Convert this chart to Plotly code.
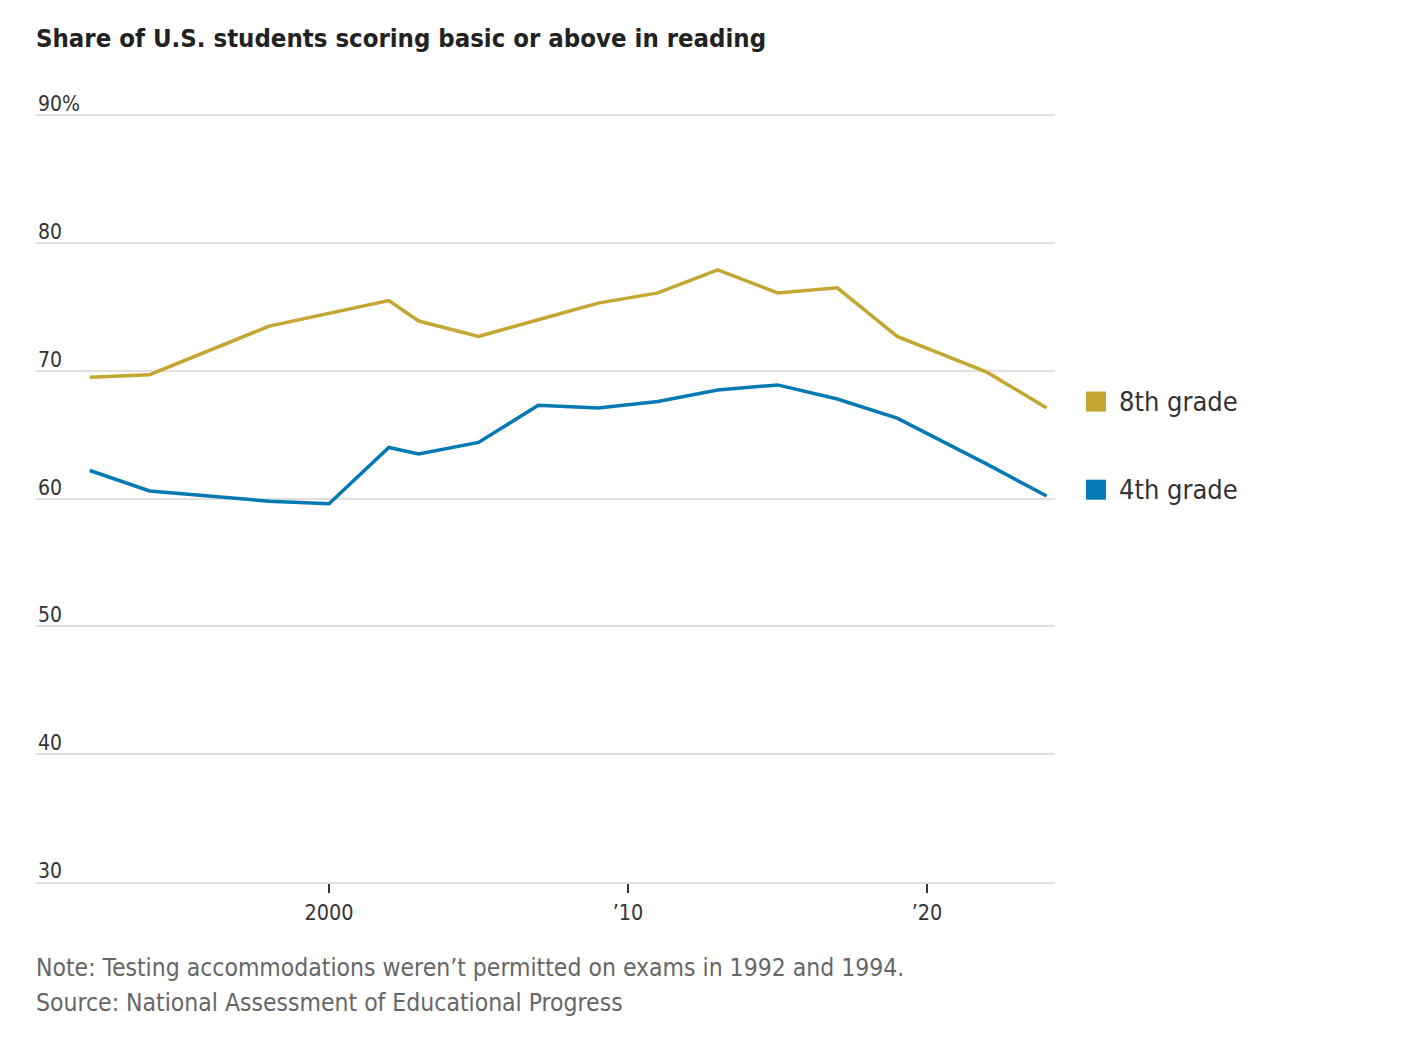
import plotly.graph_objects as go

years_8th = [1992, 1994, 1998, 2002, 2003, 2005, 2007, 2009, 2011, 2013, 2015, 2017, 2019, 2022, 2024]
grade8 = [69.5, 69.7, 73.5, 75.5, 73.9, 72.7, 74.0, 75.3, 76.1, 77.9, 76.1, 76.5, 72.7, 69.9, 67.1]

years_4th = [1992, 1994, 1998, 2000, 2002, 2003, 2005, 2007, 2009, 2011, 2013, 2015, 2017, 2019, 2022, 2024]
grade4 = [62.2, 60.6, 59.8, 59.6, 64.0, 63.5, 64.4, 67.3, 67.1, 67.6, 68.5, 68.9, 67.8, 66.3, 62.7, 60.2]

y_ticks = [30, 40, 50, 60, 70, 80, 90]
y_tick_labels = ["30", "40", "50", "60", "70", "80", "90%"]
x_ticks = [2000, 2010, 2020]
x_tick_labels = ["2000", "\u201910", "\u201920"]

series = [
    ("8th grade", years_8th, grade8, "#C4A733"),
    ("4th grade", years_4th, grade4, "#0479B3"),
]

FONT = "DejaVu Sans Condensed, DejaVu Sans, sans-serif"
LEGEND_OFFSET = 0.5  # label sits slightly above the line end

fig = go.Figure()
for name, xs, ys, color in series:
    fig.add_trace(go.Scatter(x=xs, y=ys, mode="lines", name=name,
                             line=dict(color=color, width=3.5), hoverinfo="skip"))

annotations = []
shapes = []
for v, lab in zip(y_ticks, y_tick_labels):
    annotations.append(dict(x=0, xref="paper", y=v, yref="y", text=lab, showarrow=False,
                            xanchor="left", yanchor="bottom", xshift=0, yshift=-3,
                            font=dict(size=21, color="#333333", family=FONT)))
for name, xs, ys, color in series:
    ly = ys[-1] + LEGEND_OFFSET
    annotations.append(dict(x=1.0638, xref="paper", y=ly, yref="y", text=name,
                            showarrow=False, xanchor="left", yanchor="middle", xshift=-3,
                            font=dict(size=27, color="#333333", family=FONT)))
    shapes.append(dict(type="rect", xref="paper", yref="y",
                       xsizemode="pixel", ysizemode="pixel",
                       xanchor=1.0402, yanchor=ly, x0=-10, x1=10, y0=-10, y1=10,
                       fillcolor=color, line=dict(width=0)))

annotations += [
    dict(x=0, xref="paper", y=-(967 - 882) / 768, yref="paper",
         text="Note: Testing accommodations weren\u2019t permitted on exams in 1992 and 1994.",
         showarrow=False, xanchor="left", yanchor="middle", xshift=-2,
         font=dict(size=24.5, color="#666666", family=FONT)),
    dict(x=0, xref="paper", y=-(1002 - 882) / 768, yref="paper",
         text="Source: National Assessment of Educational Progress",
         showarrow=False, xanchor="left", yanchor="middle", xshift=-2,
         font=dict(size=24.5, color="#666666", family=FONT)),
]

fig.update_layout(
    width=1390, height=1024,
    margin=dict(l=28, r=343, t=106, b=150),
    paper_bgcolor="white", plot_bgcolor="white",
    showlegend=False,
    title=dict(text="<b>Share of U.S. students scoring basic or above in reading</b>",
               x=0, xref="paper", xanchor="left",
               y=1 - 30 / 1024, yanchor="middle",
               font=dict(size=25.5, color="#222222", family=FONT)),
    xaxis=dict(range=[1990.2, 2024.28], tickvals=x_ticks, ticktext=x_tick_labels,
               showgrid=False, zeroline=False, ticks="outside", ticklen=9, tickwidth=1.5,
               tickcolor="#333333", showline=True, linecolor="#e0e0e0", linewidth=2,
               ticklabelstandoff=1,
               tickfont=dict(size=21.5, color="#333333", family=FONT)),
    yaxis=dict(range=[30, 90.1], tickvals=y_ticks, showticklabels=False,
               showgrid=True, gridcolor="#e0e0e0", gridwidth=2, zeroline=False),
    annotations=annotations,
    shapes=shapes,
)

fig.write_html("out.html")
